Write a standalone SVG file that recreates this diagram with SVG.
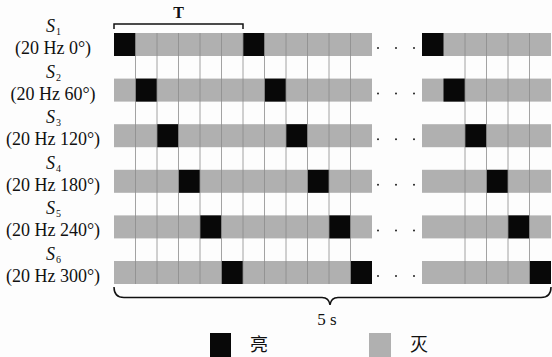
<svg xmlns="http://www.w3.org/2000/svg" width="552" height="357" viewBox="0 0 552 357">
<style>
.g{fill:#b0b0b0}
.k{fill:#080808}
.lab{font-family:'Liberation Serif','Times New Roman',serif;font-size:18px;fill:#111}
.s{font-family:'Liberation Serif','Times New Roman',serif;font-size:18px;font-style:italic;fill:#111}
.sub{font-size:10px;font-style:normal}
.grid line{stroke:#8c8c8c;stroke-width:0.8}
.br{fill:none;stroke:#111;stroke-width:1.5}
.dot{fill:#222}
</style>
<rect width="552" height="357" fill="#fdfdfd"/>
<defs>
<g id="bars">
<rect x="114" y="0" width="258" height="23" class="g"/>
<rect x="422" y="0" width="129" height="23" class="g"/>
<circle cx="378" cy="15" r="1" class="dot"/>
<circle cx="396" cy="15" r="1" class="dot"/>
<circle cx="414" cy="15" r="1" class="dot"/>
</g>
</defs>
<g id="row1" transform="translate(0,33)">
<use href="#bars"/>
<rect x="114" y="0" width="21.5" height="23" class="k"/>
<rect x="243" y="0" width="21.5" height="23" class="k"/>
<rect x="422" y="0" width="21.5" height="23" class="k"/>
<text class="s" x="46" y="-1">S<tspan class="sub" dx="1" dy="3">1</tspan></text>
<text class="lab" x="53" y="21" text-anchor="middle">(20 Hz 0°)</text>
</g>
<g id="row2" transform="translate(0,78.6)">
<use href="#bars"/>
<rect x="135.5" y="0" width="21.5" height="23" class="k"/>
<rect x="264.5" y="0" width="21.5" height="23" class="k"/>
<rect x="443.5" y="0" width="21.5" height="23" class="k"/>
<text class="s" x="46" y="-1">S<tspan class="sub" dx="1" dy="3">2</tspan></text>
<text class="lab" x="53" y="21" text-anchor="middle">(20 Hz 60°)</text>
</g>
<g id="row3" transform="translate(0,124.2)">
<use href="#bars"/>
<rect x="157" y="0" width="21.5" height="23" class="k"/>
<rect x="286" y="0" width="21.5" height="23" class="k"/>
<rect x="465" y="0" width="21.5" height="23" class="k"/>
<text class="s" x="46" y="-1">S<tspan class="sub" dx="1" dy="3">3</tspan></text>
<text class="lab" x="53" y="21" text-anchor="middle">(20 Hz 120°)</text>
</g>
<g id="row4" transform="translate(0,169.8)">
<use href="#bars"/>
<rect x="178.5" y="0" width="21.5" height="23" class="k"/>
<rect x="307.5" y="0" width="21.5" height="23" class="k"/>
<rect x="486.5" y="0" width="21.5" height="23" class="k"/>
<text class="s" x="46" y="-1">S<tspan class="sub" dx="1" dy="3">4</tspan></text>
<text class="lab" x="53" y="21" text-anchor="middle">(20 Hz 180°)</text>
</g>
<g id="row5" transform="translate(0,215.4)">
<use href="#bars"/>
<rect x="200" y="0" width="21.5" height="23" class="k"/>
<rect x="329" y="0" width="21.5" height="23" class="k"/>
<rect x="508" y="0" width="21.5" height="23" class="k"/>
<text class="s" x="46" y="-1">S<tspan class="sub" dx="1" dy="3">5</tspan></text>
<text class="lab" x="53" y="21" text-anchor="middle">(20 Hz 240°)</text>
</g>
<g id="row6" transform="translate(0,261)">
<use href="#bars"/>
<rect x="221.5" y="0" width="21.5" height="23" class="k"/>
<rect x="350.5" y="0" width="21.5" height="23" class="k"/>
<rect x="529.5" y="0" width="21.5" height="23" class="k"/>
<text class="s" x="46" y="-1">S<tspan class="sub" dx="1" dy="3">6</tspan></text>
<text class="lab" x="53" y="21" text-anchor="middle">(20 Hz 300°)</text>
</g>
<g id="connectors" class="grid">
<line x1="135.5" y1="33" x2="135.5" y2="284"/>
<line x1="157" y1="33" x2="157" y2="284"/>
<line x1="178.5" y1="33" x2="178.5" y2="284"/>
<line x1="200" y1="33" x2="200" y2="284"/>
<line x1="221.5" y1="33" x2="221.5" y2="284"/>
<line x1="243" y1="33" x2="243" y2="284"/>
<line x1="264.5" y1="33" x2="264.5" y2="284"/>
<line x1="286" y1="33" x2="286" y2="284"/>
<line x1="307.5" y1="33" x2="307.5" y2="284"/>
<line x1="329" y1="33" x2="329" y2="284"/>
<line x1="350.5" y1="33" x2="350.5" y2="284"/>
<line x1="465" y1="33" x2="465" y2="284"/>
<line x1="486.5" y1="33" x2="486.5" y2="284"/>
<line x1="508" y1="33" x2="508" y2="284"/>
<line x1="529.5" y1="33" x2="529.5" y2="284"/>
</g>
<g id="period">
<path class="br" d="M114,29 L114,24 L243,24 L243,29"/>
<text x="178.5" y="18" text-anchor="middle" font-family="'Liberation Serif', serif" font-size="16" font-weight="bold" fill="#111">T</text>
</g>
<g id="duration">
<path class="br" d="M114,287 Q114,297.5 124,297.5 L322,297.5 Q329,297.5 330,305 Q331,297.5 338,297.5 L541,297.5 Q551,297.5 551,287"/>
<text x="327" y="325" text-anchor="middle" font-family="'Liberation Serif', serif" font-size="17" fill="#111">5 s</text>
</g>
<g id="legend">
<rect x="210" y="333" width="21" height="24" class="k"/>
<text x="250" y="351" font-family="'Noto Sans CJK SC', sans-serif" font-size="18" fill="#111">亮</text>
<rect x="369" y="333" width="22" height="24" class="g"/>
<text x="410" y="351" font-family="'Noto Sans CJK SC', sans-serif" font-size="18" fill="#111">灭</text>
</g>
</svg>
